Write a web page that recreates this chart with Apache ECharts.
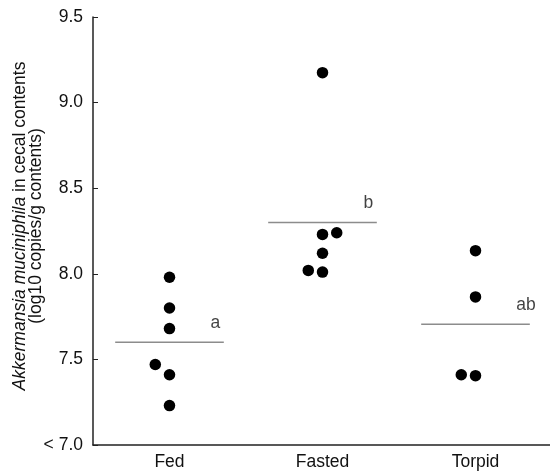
<!DOCTYPE html>
<html><head><meta charset="utf-8">
<script src="https://cdn.jsdelivr.net/npm/echarts@6/dist/echarts.min.js"></script>
<style>html,body{margin:0;padding:0;background:#fff}#c{width:550px;height:472px}</style>
</head><body><div id="c"></div>
<script>
const categories = ['Fed', 'Fasted', 'Torpid'];
const fedValues = [7.98, 7.80, 7.68, 7.47, 7.41, 7.23];
const fastedValues = [9.175, 8.23, 8.24, 8.12, 8.02, 8.01];
const torpidValues = [8.135, 7.865, 7.41, 7.405];
// side-by-side dodge of overlapping dots (in dot steps)
const fedDodge = [0, 0, 0, -1, 0, 0];
const fastedDodge = [0, 0, 1, 0, -1, 0];
const torpidDodge = [0, 0, -1, 0];
const groupMeans = [7.60, 8.30, 7.705];
const groupLetters = ['a', 'b', 'ab'];
const yTicks = [7.0, 7.5, 8.0, 8.5, 9.0, 9.5];

const groups = [fedValues, fastedValues, torpidValues];
const dodges = [fedDodge, fastedDodge, torpidDodge];
const DODGE = 0.093, HALF = 0.355;
const FONT = '"Liberation Sans", Arial, sans-serif';
const FS = 17.5;

const pts = [];
groups.forEach((vals, gi) => vals.forEach((v, k) => pts.push([gi + 0.5 + dodges[gi][k] * DODGE, v])));

const series = [];
groupMeans.forEach((m, gi) => {
  series.push({
    type: 'line', xAxisIndex: 1, data: [[gi + 0.5 - HALF, m], [gi + 0.5 + HALF, m]],
    symbol: 'none', lineStyle: {color: '#8c8c8c', width: 1.5}, silent: true, z: 1
  });
});
series.push({
  type: 'scatter', xAxisIndex: 1, data: pts, symbolSize: 11.5,
  itemStyle: {color: '#000', opacity: 1}, z: 3
});
series.push({
  type: 'scatter', xAxisIndex: 1,
  data: groupMeans.map((m, gi) => ({value: [gi + 0.5 + (gi === 2 ? 0.33 : 0.3), m], label: {formatter: groupLetters[gi]}})),
  symbolSize: 0,
  label: {show: true, position: 'top', distance: 10, fontSize: FS, color: '#111', fontFamily: FONT}
});

const chart = echarts.init(document.getElementById('c'));
chart.setOption({
  animation: false,
  grid: {left: 93, right: -2, top: 17, bottom: 27, containLabel: false, outerBoundsMode: 'none'},
  xAxis: [{
    type: 'category', data: categories, boundaryGap: true,
    axisLine: {lineStyle: {color: '#222', width: 1.5}},
    axisTick: {inside: true, length: 5, lineStyle: {color: '#222'}},
    axisLabel: {fontSize: FS, color: '#111', fontFamily: FONT, margin: 8},
    splitLine: {show: false}
  }, {
    type: 'value', min: 0, max: 3, show: false
  }],
  yAxis: {
    type: 'value', min: yTicks[0], max: yTicks[yTicks.length - 1], interval: 0.5,
    axisLine: {show: true, lineStyle: {color: '#222', width: 1.5}},
    axisTick: {show: true, inside: true, length: 5, lineStyle: {color: '#222'}},
    axisLabel: {fontSize: FS, color: '#111', fontFamily: FONT, margin: 10,
      formatter: v => (Math.abs(v - 7) < 1e-9 ? '< ' : '') + v.toFixed(1)},
    splitLine: {show: false},
    name: '{i|Akkermansia muciniphila} in cecal contents\n(log10 copies/g contents)',
    nameLocation: 'middle', nameGap: 49, nameRotate: 90, nameMoveOverlap: false,
    nameTextStyle: {fontSize: FS, color: '#111', fontFamily: FONT, lineHeight: 16, align: 'center',
      padding: [0, 0, 0, 10],
      rich: {i: {fontStyle: 'italic', fontSize: FS, color: '#111', fontFamily: FONT, lineHeight: 16}}}
  },
  series: series
});
</script></body></html>
